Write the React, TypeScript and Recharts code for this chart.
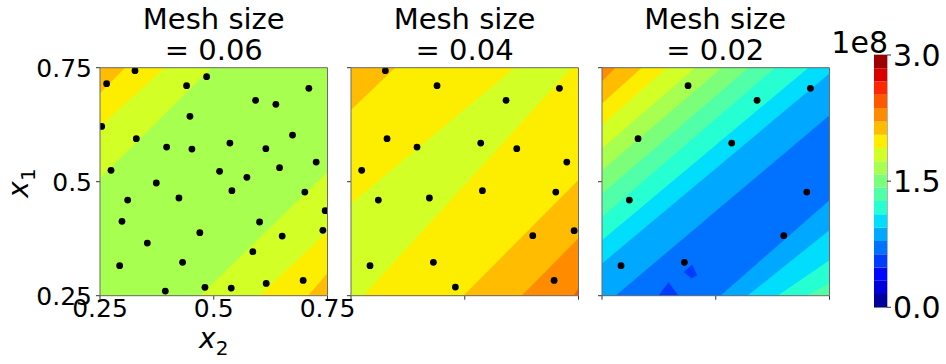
import React from 'react';
import { ScatterChart, Scatter, XAxis, YAxis, BarChart, Bar, ReferenceArea } from 'recharts';

const FONT = '"DejaVu Sans", "Liberation Sans", sans-serif';

// ---- data ----
const meshSizes = ['0.06', '0.04', '0.02'];
const axisTicks = [0.25, 0.5, 0.75];
const axisDomain: [number, number] = [0.25, 0.75];

// contour levels (19 bands, 0 .. 3e8)
const levels = [
  0, 15.789e6, 31.579e6, 47.368e6, 63.158e6, 78.947e6, 94.737e6, 110.526e6, 126.316e6, 142.105e6,
  157.895e6, 173.684e6, 189.474e6, 205.263e6, 221.053e6, 236.842e6, 252.632e6, 268.421e6, 284.211e6, 300e6,
];
const colorbarTicks = [0, 1.5e8, 3e8];

// contour boundaries [x2a, x1a, x2b, x1b, band on the upper-left side], ordered lower-right -> upper-left
type Chord = [number, number, number, number, number];
const panel1Base = 13;
const panel1Chords: Chord[] = [
  [0.707, 0.25, 0.75, 0.299, 12],
  [0.6, 0.25, 0.75, 0.39, 11],
  [0.47, 0.25, 0.75, 0.522, 10],
  [0.25, 0.507, 0.495, 0.75, 11],
  [0.25, 0.621, 0.393, 0.75, 12],
  [0.25, 0.694, 0.305, 0.75, 13],
];
const panel2Base = 15;
const panel2Chords: Chord[] = [
  [0.739, 0.25, 0.75, 0.266, 14],
  [0.625, 0.25, 0.75, 0.376, 13],
  [0.497, 0.25, 0.75, 0.504, 12],
  [0.277, 0.25, 0.735, 0.75, 11],
  [0.25, 0.452, 0.61, 0.75, 12],
  [0.25, 0.657, 0.347, 0.75, 13],
];
const panel3Base = 8;
const panel3Chords: Chord[] = [
  [0.6995, 0.25, 0.75, 0.2774, 7],
  [0.6357, 0.25, 0.75, 0.3278, 6],
  [0.5698, 0.25, 0.75, 0.3936, 5],
  [0.5104, 0.25, 0.75, 0.4594, 4],
  [0.2797, 0.25, 0.75, 0.6458, 5],
  [0.25, 0.3206, 0.75, 0.7373, 6],
  [0.25, 0.3717, 0.7038, 0.75, 7],
  [0.25, 0.4228, 0.6307, 0.75, 8],
  [0.25, 0.4741, 0.572, 0.75, 9],
  [0.25, 0.5252, 0.5133, 0.75, 10],
  [0.25, 0.5728, 0.4548, 0.75, 11],
  [0.25, 0.6239, 0.3924, 0.75, 12],
  [0.25, 0.6715, 0.3375, 0.75, 13],
  [0.25, 0.7204, 0.2797, 0.75, 14],
];
// small isolated patches (band, vertices [x2, x1])
type Patch = { band: number; pts: [number, number][] };
const panel3Patches: Patch[] = [
  { band: 3, pts: [[0.3742, 0.25], [0.3962, 0.2803], [0.4181, 0.25]] },
  { band: 3, pts: [[0.4298, 0.3022], [0.4482, 0.3184], [0.4592, 0.295], [0.4467, 0.2877]] },
];

// sample locations [x2, x1]
const panel1Points: [number, number][] = [
  [0.2646, 0.7149], [0.3269, 0.7434], [0.4403, 0.7105], [0.4843, 0.7303], [0.2537, 0.6213],
  [0.4477, 0.6433], [0.5919, 0.6784], [0.6365, 0.6696], [0.709, 0.7047], [0.3298, 0.5943],
  [0.3964, 0.576], [0.452, 0.5716], [0.5355, 0.5848], [0.6145, 0.5724], [0.6731, 0.6023],
  [0.7251, 0.5431], [0.2742, 0.5249], [0.5128, 0.5227], [0.5728, 0.5095], [0.6446, 0.5307],
  [0.3737, 0.4971], [0.5399, 0.4803], [0.7002, 0.4773], [0.3108, 0.4598], [0.4235, 0.4642],
  [0.2983, 0.413], [0.7449, 0.4364], [0.6007, 0.4116], [0.4694, 0.3882], [0.6504, 0.3808],
  [0.7398, 0.3933], [0.354, 0.3655], [0.586, 0.3465], [0.2932, 0.3158], [0.4315, 0.3231],
  [0.6153, 0.277], [0.6965, 0.2836], [0.3935, 0.2602], [0.4806, 0.2683], [0.5384, 0.2668],
];
const panel2Points: [number, number][] = [
  [0.3255, 0.7434], [0.4391, 0.7105], [0.7081, 0.7047], [0.5908, 0.6784], [0.3292, 0.5943],
  [0.3951, 0.576], [0.5351, 0.5848], [0.6143, 0.5724], [0.2735, 0.5249], [0.7243, 0.5431],
  [0.3101, 0.4598], [0.4223, 0.4642], [0.5388, 0.4803], [0.7001, 0.4773], [0.6495, 0.3816],
  [0.7404, 0.3926], [0.2918, 0.3158], [0.4311, 0.3231], [0.4794, 0.269], [0.6964, 0.2836],
];
const panel3Points: [number, number][] = [
  [0.4391, 0.7105], [0.7081, 0.7047], [0.5908, 0.6784], [0.3292, 0.5943], [0.5351, 0.5848],
  [0.3101, 0.4598], [0.7001, 0.4773], [0.6495, 0.3816], [0.2918, 0.3158], [0.4311, 0.3231],
];

// ---- helpers ----
function jet(v: number): string {
  const interp = (pts: number[][]) => {
    for (let i = 0; i < pts.length - 1; i++) {
      const [x0, y0] = pts[i];
      const [x1, y1] = pts[i + 1];
      if (v <= x1) return y0 + ((y1 - y0) * (v - x0)) / (x1 - x0);
    }
    return pts[pts.length - 1][1];
  };
  const r = interp([[0, 0], [0.35, 0], [0.66, 1], [0.89, 1], [1, 0.5]]);
  const g = interp([[0, 0], [0.125, 0], [0.375, 1], [0.64, 1], [0.91, 0], [1, 0]]);
  const b = interp([[0, 0.5], [0.11, 1], [0.34, 1], [0.65, 0], [1, 0]]);
  const h = (c: number) => Math.round(Math.max(0, Math.min(1, c)) * 255);
  return `rgb(${h(r)},${h(g)},${h(b)})`;
}
const nBands = levels.length - 1;
const bandColor = (i: number) => {
  const mid = (levels[i] + levels[i + 1]) / 2;
  return jet((mid - levels[0]) / (levels[nBands] - levels[0]));
};

const LO = axisDomain[0];
const HI = axisDomain[1];
function perim([x, y]: [number, number]): number {
  const eps = 1e-6;
  if (Math.abs(y - LO) < eps) return (HI - x) / (HI - LO);
  if (Math.abs(x - LO) < eps) return 1 + (y - LO) / (HI - LO);
  if (Math.abs(y - HI) < eps) return 2 + (x - LO) / (HI - LO);
  return 3 + (HI - y) / (HI - LO);
}
const cornerList: [number, [number, number]][] = [[1, [LO, LO]], [2, [LO, HI]], [3, [HI, HI]]];
function upperLeftRegion(c: Chord) {
  const a: [number, number] = [c[0], c[1]];
  const b: [number, number] = [c[2], c[3]];
  const sa = perim(a);
  const sb = perim(b);
  const [p, q, sp, sq] = sa < sb ? [a, b, sa, sb] : [b, a, sb, sa];
  const pts: [number, number][] = [p];
  for (const [s, corner] of cornerList) if (s > sp && s < sq) pts.push(corner);
  pts.push(q, p);
  return pts.map(([x, y]) => ({ x, y }));
}
const square = [[LO, LO], [LO, HI], [HI, HI], [HI, LO], [LO, LO]].map(([x, y]) => ({ x, y }));

const NoShape = () => <g />;
const NoTick = () => <g />;
const Dot = (props: any) => <circle cx={props.cx} cy={props.cy} r={3.4} fill="#000" />;

const tickStyle = { fontSize: 25, fill: '#000', fontFamily: FONT };

function Panel({ plotLeft, base, chords, patches, points, labels }: {
  plotLeft: number; base: number; chords: Chord[]; patches: Patch[]; points: [number, number][]; labels: boolean;
}) {
  return (
    <div style={{ position: 'absolute', left: plotLeft - 100, top: 0 }}>
      <ScatterChart width={367.5} height={364} margin={{ top: 67.7, right: 40, bottom: 38.3, left: 40 }}>
        <XAxis type="number" dataKey="x" domain={axisDomain} ticks={axisTicks} allowDataOverflow height={30}
          interval={0} tickSize={4} tickMargin={0} axisLine={false} tickLine={{ stroke: '#333' }}
          tick={labels ? tickStyle : NoTick} />
        <YAxis type="number" dataKey="y" domain={axisDomain} ticks={axisTicks} allowDataOverflow width={60}
          interval={0} tickSize={4} tickMargin={4} axisLine={false} tickLine={{ stroke: '#333' }}
          tick={labels ? tickStyle : NoTick} />
        <XAxis xAxisId="f" type="number" dataKey="x" domain={axisDomain} hide />
        <YAxis yAxisId="f" type="number" dataKey="y" domain={axisDomain} hide />
        <Scatter data={square} shape={NoShape} line={{ fill: bandColor(base), stroke: 'none' }} isAnimationActive={false} />
        {chords.map((c, i) => (
          <Scatter key={`c${i}`} data={upperLeftRegion(c)} shape={NoShape}
            line={{ fill: bandColor(c[4]), stroke: 'none' }} isAnimationActive={false} />
        ))}
        {patches.map((p, i) => (
          <Scatter key={`p${i}`} data={[...p.pts, p.pts[0]].map(([x, y]) => ({ x, y }))} shape={NoShape}
            line={{ fill: bandColor(p.band), stroke: 'none' }} isAnimationActive={false} />
        ))}
        <Scatter data={points.map(([x, y]) => ({ x, y }))} shape={Dot} isAnimationActive={false} />
        <Scatter xAxisId="f" yAxisId="f" data={square} shape={NoShape}
          line={{ fill: 'none', stroke: '#6b6b6b', strokeWidth: 1 }} isAnimationActive={false} />
      </ScatterChart>
    </div>
  );
}

const colorbarRow: Record<string, number | string> = { name: 'cb' };
for (let i = 0; i < nBands; i++) colorbarRow[`b${i}`] = levels[i + 1] - levels[i];

export default function App() {
  const plotLefts = [100, 350.8, 601.5];
  const plotW = 227.5;
  return (
    <div style={{ position: 'absolute', left: 0, top: 0, width: 946, height: 364, background: '#fff', overflow: 'hidden' }}>
      <Panel plotLeft={plotLefts[2]} base={panel3Base} chords={panel3Chords} patches={panel3Patches} points={panel3Points} labels={false} />
      <Panel plotLeft={plotLefts[1]} base={panel2Base} chords={panel2Chords} patches={[]} points={panel2Points} labels={false} />
      <Panel plotLeft={plotLefts[0]} base={panel1Base} chords={panel1Chords} patches={[]} points={panel1Points} labels />
      <div style={{ position: 'absolute', left: 874.3, top: 0 }}>
        <BarChart width={72} height={364} data={[colorbarRow]} margin={{ top: 55, bottom: 56.7, left: 0, right: 0 }}
          barCategoryGap={0} barGap={0}>
          <XAxis dataKey="name" hide />
          <YAxis orientation="right" type="number" width={59} domain={[levels[0], levels[nBands]]} ticks={colorbarTicks}
            allowDataOverflow interval={0} tickFormatter={(v: number) => (v / 1e8).toFixed(1)} tickSize={4} tickMargin={2}
            axisLine={false} tickLine={{ stroke: '#333' }} tick={{ fontSize: 30, fill: '#000', fontFamily: FONT }} />
          {Array.from({ length: nBands }, (_, i) => (
            <Bar key={i} dataKey={`b${i}`} stackId="cb" fill={bandColor(i)} isAnimationActive={false} />
          ))}
          <ReferenceArea y1={levels[0]} y2={levels[nBands]} fill="none" stroke="#6b6b6b" strokeWidth={1} ifOverflow="visible" />
        </BarChart>
      </div>
      <svg width={946} height={364} style={{ position: 'absolute', left: 0, top: 0, pointerEvents: 'none' }}
        fontFamily={FONT}>
        {meshSizes.map((m, i) => {
          const cx = plotLefts[i] + plotW / 2;
          return (
            <g key={m}>
              <text x={cx} y={29.3} textAnchor="middle" fontSize={29} fill="#000">Mesh size</text>
              <text x={cx} y={60} textAnchor="middle" fontSize={29} fill="#000">{`= ${m}`}</text>
            </g>
          );
        })}
        <text x={888} y={53.3} textAnchor="end" fontSize={30} fill="#000">1e8</text>
        <text x={plotLefts[0] + plotW / 2} y={348} textAnchor="middle" fontSize={28} fill="#000">
          <tspan fontStyle="italic">x</tspan>
          <tspan fontSize={20} dy={7}>2</tspan>
        </text>
        <text x={28} y={183} textAnchor="middle" fontSize={28} fill="#000" transform="rotate(-90, 28, 183)">
          <tspan fontStyle="italic">x</tspan>
          <tspan fontSize={20} dy={7}>1</tspan>
        </text>
      </svg>
    </div>
  );
}
